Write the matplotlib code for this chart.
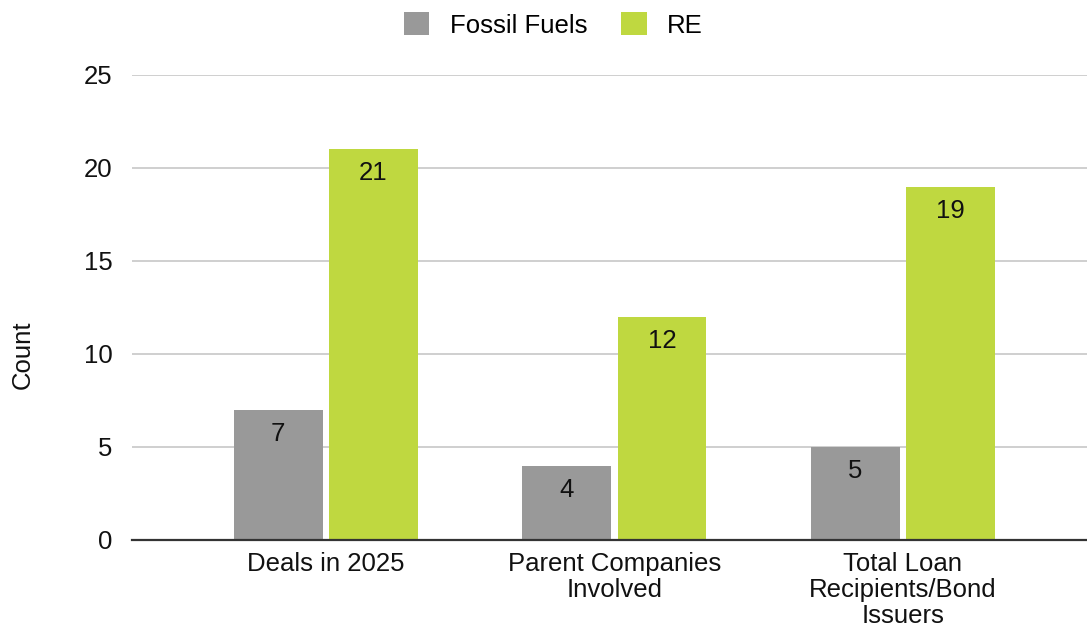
import numpy as np
import matplotlib.pyplot as plt

categories = ["Deals in 2025", "Parent Companies\nInvolved", "Total Loan\nRecipients/Bond\nIssuers"]
fossil = [7, 4, 5]
renewable = [21, 12, 19]
series_names = ["Fossil Fuels", "RE"]
yticks = [0, 5, 10, 15, 20, 25]

GRAY = "#999999"
GREEN = "#bfd840"
TXT = "#111111"

plt.rcParams["font.family"] = ["Liberation Sans", "DejaVu Sans"]

fig = plt.figure(figsize=(10.87, 6.27), dpi=100)
ax = fig.add_axes([0.1214, 0.1388, 0.8786, 0.7416])

x = np.arange(len(categories))
w = 0.308
off = 0.165
b1 = ax.bar(x - off, fossil, w, color=GRAY, label=series_names[0], zorder=3)
b2 = ax.bar(x + off, renewable, w, color=GREEN, label=series_names[1], zorder=3)

# value labels sit just inside the top of each bar
for bars, vals in ((b1, fossil), (b2, renewable)):
    for rect, v in zip(bars, vals):
        ax.annotate(str(v), (rect.get_x() + rect.get_width() / 2, v),
                    xytext=(0, -24), textcoords="offset pixels",
                    ha="center", va="center", fontsize=18.5, color=TXT, zorder=4)

ax.set_xlim(-0.672, 2.638)
ax.set_ylim(0, 25)
ax.set_yticks(yticks)
ax.yaxis.grid(True, color="#cccccc", linewidth=1.3, zorder=0)
ax.set_xticks(x)
ax.set_xticklabels(categories, fontsize=18.5, color=TXT, linespacing=1.08)
ax.tick_params(axis="y", length=0, pad=14, labelsize=18.5, labelcolor=TXT)
ax.tick_params(axis="x", length=0, pad=9)
for s in ("top", "right", "left"):
    ax.spines[s].set_visible(False)
ax.spines["bottom"].set_color("#333333")
ax.spines["bottom"].set_linewidth(1.6)
ax.spines["bottom"].set_zorder(5)

fig.text(0.021, 0.434, "Count", rotation=90, ha="center", va="center",
         fontsize=18.5, color=TXT)

fig.legend(loc="center", bbox_to_anchor=(0.509, 0.96), ncol=2, frameon=False,
           fontsize=18.5, handlelength=1.0, handleheight=1.0, columnspacing=1.3,
           handletextpad=0.8)

fig.savefig("out.png", dpi=100)
